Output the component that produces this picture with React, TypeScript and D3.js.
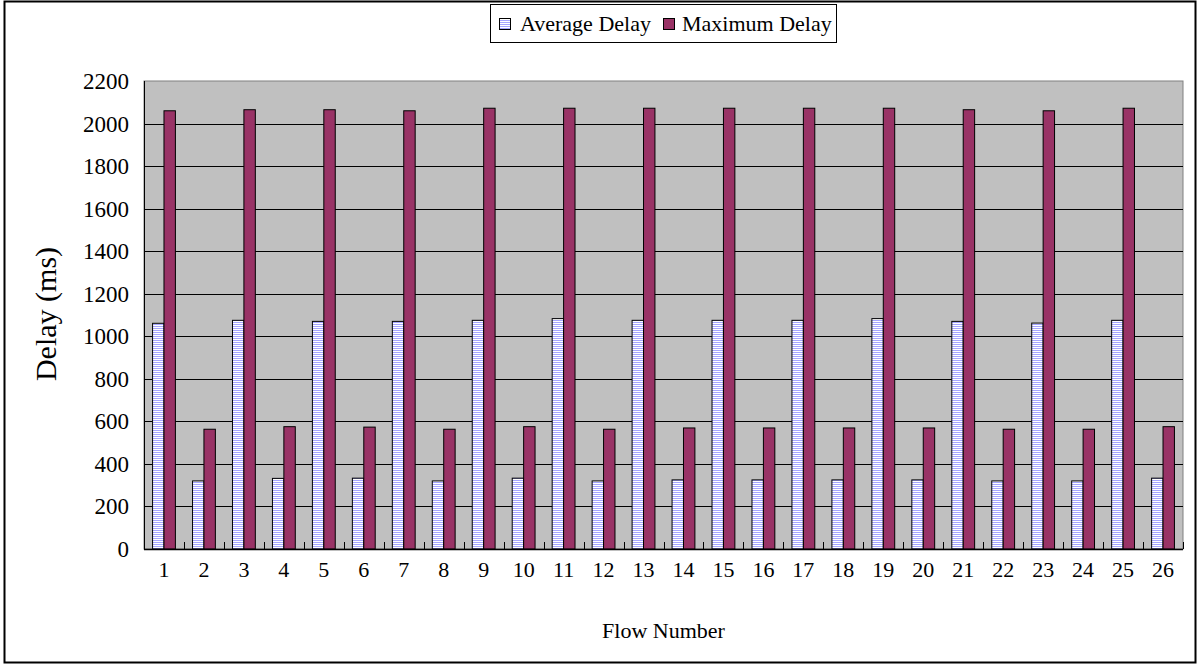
import React from "react";
import * as d3 from "d3";

const flows = Array.from({ length: 26 }, (_, i) => String(i + 1));
const averageDelay = [1061, 320, 1075, 332, 1070, 333, 1070, 320, 1075, 333, 1083, 320, 1075, 325, 1075, 325, 1075, 325, 1083, 325, 1070, 320, 1062, 320, 1075, 333];
const maximumDelay = [2060, 563, 2065, 575, 2065, 573, 2060, 563, 2072, 575, 2072, 563, 2072, 569, 2072, 569, 2072, 569, 2072, 569, 2065, 563, 2060, 563, 2072, 575];
const yTicks = [0, 200, 400, 600, 800, 1000, 1200, 1400, 1600, 1800, 2000, 2200];
const seriesNames = ["Average Delay", "Maximum Delay"];

const W = 1199, H = 666;
const left = 144, right = 1183, top = 81, bottom = 549;
const font = "'Liberation Serif', 'Times New Roman', serif";

export default function App() {
  const x = d3.scaleBand<string>().domain(flows).range([left, right]).padding(0);
  const y = d3.scaleLinear().domain([0, 2200]).range([bottom, top]);
  const bw = x.bandwidth();
  const barW = bw / 3.5;
  const groupOff = (bw - 2 * barW) / 2;

  return (
    <svg width={W} height={H} style={{ position: "absolute", left: 0, top: 0, background: "#fff" }} fontFamily={font}>
      <defs>
        <pattern id="stripes" width="4" height="2" patternUnits="userSpaceOnUse">
          <rect width="4" height="2" fill="#ffffff" />
          <rect width="4" height="1" fill="#a6a6ff" />
        </pattern>
      </defs>
      <rect x={4.5} y={1.5} width={1191} height={661} fill="#fff" stroke="#000" strokeWidth={2} />
      {/* plot area */}
      <rect x={left} y={top} width={right - left} height={bottom - top} fill="#c0c0c0" stroke="#808080" strokeWidth={1} />
      {yTicks.filter(t => t > 0 && t < 2200).map(t => (
        <line key={t} x1={left} x2={right} y1={Math.round(y(t)) + 0.5} y2={Math.round(y(t)) + 0.5} stroke="#000" strokeWidth={1} />
      ))}
      <line x1={left + 0.5} x2={left + 0.5} y1={top} y2={bottom} stroke="#000" />
      {/* bars */}
      {flows.map((f, i) => {
        const x0 = (x(f) as number) + groupOff;
        return (
          <g key={f}>
            <rect x={x0} y={y(averageDelay[i])} width={barW} height={bottom - y(averageDelay[i])} fill="url(#stripes)" stroke="#000" strokeWidth={1} />
            <rect x={x0 + barW} y={y(maximumDelay[i])} width={barW} height={bottom - y(maximumDelay[i])} fill="#993366" stroke="#000" strokeWidth={1} />
          </g>
        );
      })}
      {/* x axis */}
      <line x1={left} x2={right} y1={bottom + 0.5} y2={bottom + 0.5} stroke="#000" strokeWidth={1.5} />
      {flows.map((f, i) => (
        <line key={"t" + f} x1={Math.round((x(f) as number) + bw) + 0.5} x2={Math.round((x(f) as number) + bw) + 0.5} y1={bottom} y2={bottom - 7} stroke="#000" />
      ))}
      {flows.map(f => (
        <text key={"l" + f} x={(x(f) as number) + bw / 2} y={577} textAnchor="middle" fontSize={22}>{f}</text>
      ))}
      {yTicks.map(t => (
        <text key={"y" + t} x={129} y={y(t) + 8} textAnchor="end" fontSize={23}>{t}</text>
      ))}
      <text x={(left + right) / 2} y={638} textAnchor="middle" fontSize={22}>Flow Number</text>
      <text transform={`translate(56, ${(top + bottom) / 2 - 1}) rotate(-90)`} textAnchor="middle" fontSize={30}>Delay (ms)</text>
      {/* legend */}
      <rect x={490.5} y={4.5} width={346} height={38} fill="#fff" stroke="#000" strokeWidth={1} />
      <rect x={499.5} y={18.5} width={11} height={11} fill="url(#stripes)" stroke="#000" />
      <text x={520} y={31} fontSize={22}>{seriesNames[0]}</text>
      <rect x={663.5} y={18.5} width={11} height={11} fill="#993366" stroke="#000" />
      <text x={682} y={31} fontSize={22}>{seriesNames[1]}</text>
    </svg>
  );
}
